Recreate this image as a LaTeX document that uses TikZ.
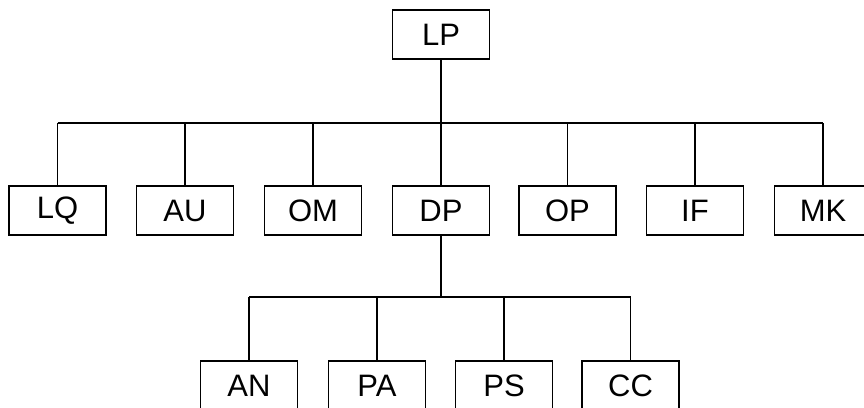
\documentclass[tikz,border=0pt]{standalone}
\usepackage{fontspec}
\setmainfont{Liberation Sans}
\begin{document}
\begin{tikzpicture}[x=1pt,y=-1pt,
  box/.style={draw,line width=1.8pt,minimum width=97pt,minimum height=49pt,inner sep=0pt,
    font=\fontsize{31}{31}\selectfont},
  wire/.style={line width=1.8pt}]
\useasboundingbox (0,0) rectangle (864,407);
\clip (0,0) rectangle (864,407);
\node[box] (LP) at (441,34.5) {LP};
\node[box] (LQ) at (57.5,210.5) {LQ};
\node[box] (AU) at (185,210.5) {AU};
\node[box] (OM) at (313,210.5) {OM};
\node[box] (DP) at (441,210.5) {DP};
\node[box] (OP) at (567.5,210.5) {OP};
\node[box] (IF) at (695,210.5) {IF};
\node[box] (MK) at (823,210.5) {MK};
\node[box] (AN) at (249,385.5) {AN};
\node[box] (PA) at (377,385.5) {PA};
\node[box] (PS) at (504,385.5) {PS};
\node[box] (CC) at (630.5,385.5) {CC};
\coordinate (busA) at (0,123);
\coordinate (busB) at (0,297);
\draw[wire] (LP.south) -- (LP.south |- busA);
\draw[wire] (LQ.north |- busA) -- (MK.north |- busA);
\foreach \n in {LQ,AU,OM,DP,OP,IF,MK}
  \draw[wire] (\n.north) -- (\n.north |- busA);
\draw[wire] (DP.south) -- (DP.south |- busB);
\draw[wire] (AN.north |- busB) -- (CC.north |- busB);
\foreach \n in {AN,PA,PS,CC}
  \draw[wire] (\n.north) -- (\n.north |- busB);
\end{tikzpicture}
\end{document}
